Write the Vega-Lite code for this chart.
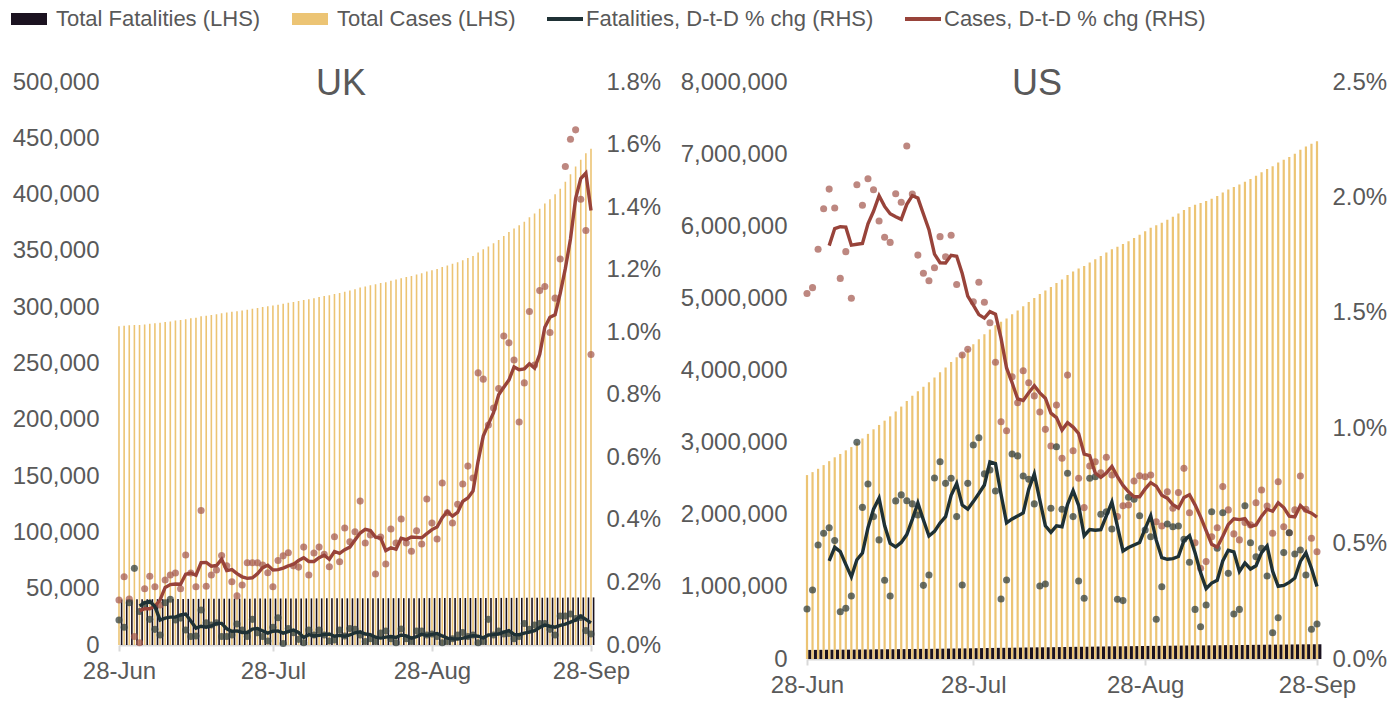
{
"$schema": "https://vega.github.io/schema/vega-lite/v6.json",
"padding": {"left": 12, "top": 8, "right": 2, "bottom": 2},
"background": "white",
"bounds": "flush",
"spacing": 216,
"config": {
 "view": {"stroke": null},
 "font": "Liberation Sans"
},
"datasets": {
"uk": [
{"d":"2020-06-28","tc":283000,"tf":40400,"cp":0.144,"fp":0.080},
{"d":"2020-06-29","tc":283600,"tf":40423,"cp":0.218,"fp":0.057},
{"d":"2020-06-30","tc":284000,"tf":40478,"cp":0.147,"fp":0.135},
{"d":"2020-07-01","tc":284100,"tf":40577,"cp":0.027,"fp":0.245},
{"d":"2020-07-02","tc":284100,"tf":40620,"cp":0.007,"fp":0.107,"cm":0.109,"fm":0.125},
{"d":"2020-07-03","tc":284600,"tf":40673,"cp":0.18,"fp":0.13,"cm":0.116,"fm":0.135},
{"d":"2020-07-04","tc":285200,"tf":40706,"cp":0.22,"fp":0.082,"cm":0.116,"fm":0.140},
{"d":"2020-07-05","tc":285800,"tf":40726,"cp":0.186,"fp":0.05,"cm":0.124,"fm":0.123},
{"d":"2020-07-06","tc":286200,"tf":40739,"cp":0.128,"fp":0.032,"cm":0.144,"fm":0.080},
{"d":"2020-07-07","tc":286800,"tf":40794,"cp":0.208,"fp":0.135,"cm":0.184,"fm":0.086},
{"d":"2020-07-08","tc":287400,"tf":40853,"cp":0.224,"fp":0.146,"cm":0.193,"fm":0.089},
{"d":"2020-07-09","tc":288100,"tf":40885,"cp":0.23,"fp":0.08,"cm":0.195,"fm":0.089},
{"d":"2020-07-10","tc":288600,"tf":40920,"cp":0.18,"fp":0.086,"cm":0.194,"fm":0.096},
{"d":"2020-07-11","tc":289400,"tf":40939,"cp":0.288,"fp":0.048,"cm":0.226,"fm":0.099},
{"d":"2020-07-12","tc":290100,"tf":40950,"cp":0.23,"fp":0.027,"cm":0.230,"fm":0.077},
{"d":"2020-07-13","tc":290600,"tf":40962,"cp":0.186,"fp":0.029,"cm":0.223,"fm":0.054},
{"d":"2020-07-14","tc":291900,"tf":41007,"cp":0.43,"fp":0.112,"cm":0.263,"fm":0.060},
{"d":"2020-07-15","tc":292400,"tf":41036,"cp":0.188,"fp":0.071,"cm":0.264,"fm":0.057},
{"d":"2020-07-16","tc":293100,"tf":41062,"cp":0.224,"fp":0.064,"cm":0.252,"fm":0.061},
{"d":"2020-07-17","tc":293800,"tf":41091,"cp":0.24,"fp":0.071,"cm":0.254,"fm":0.069},
{"d":"2020-07-18","tc":294600,"tf":41102,"cp":0.286,"fp":0.027,"cm":0.274,"fm":0.069},
{"d":"2020-07-19","tc":295400,"tf":41113,"cp":0.253,"fp":0.027,"cm":0.238,"fm":0.052},
{"d":"2020-07-20","tc":296000,"tf":41126,"cp":0.202,"fp":0.032,"cm":0.241,"fm":0.044},
{"d":"2020-07-21","tc":296400,"tf":41153,"cp":0.157,"fp":0.067,"cm":0.228,"fm":0.045},
{"d":"2020-07-22","tc":297000,"tf":41172,"cp":0.192,"fp":0.048,"cm":0.218,"fm":0.040},
{"d":"2020-07-23","tc":297800,"tf":41183,"cp":0.263,"fp":0.027,"cm":0.213,"fm":0.040},
{"d":"2020-07-24","tc":298600,"tf":41216,"cp":0.263,"fp":0.082,"cm":0.215,"fm":0.051},
{"d":"2020-07-25","tc":299300,"tf":41232,"cp":0.263,"fp":0.039,"cm":0.228,"fm":0.053},
{"d":"2020-07-26","tc":300100,"tf":41243,"cp":0.256,"fp":0.027,"cm":0.247,"fm":0.045},
{"d":"2020-07-27","tc":300800,"tf":41248,"cp":0.231,"fp":0.013,"cm":0.255,"fm":0.038},
{"d":"2020-07-28","tc":301400,"tf":41271,"cp":0.186,"fp":0.057,"cm":0.240,"fm":0.044},
{"d":"2020-07-29","tc":302200,"tf":41306,"cp":0.27,"fp":0.087,"cm":0.241,"fm":0.045},
{"d":"2020-07-30","tc":303000,"tf":41308,"cp":0.285,"fp":0.005,"cm":0.246,"fm":0.038},
{"d":"2020-07-31","tc":303900,"tf":41329,"cp":0.295,"fp":0.053,"cm":0.253,"fm":0.043},
{"d":"2020-08-01","tc":304700,"tf":41345,"cp":0.253,"fp":0.039,"cm":0.258,"fm":0.048},
{"d":"2020-08-02","tc":305500,"tf":41352,"cp":0.249,"fp":0.018,"cm":0.270,"fm":0.040},
{"d":"2020-08-03","tc":306400,"tf":41355,"cp":0.313,"fp":0.007,"cm":0.279,"fm":0.024},
{"d":"2020-08-04","tc":307100,"tf":41374,"cp":0.224,"fp":0.048,"cm":0.267,"fm":0.033},
{"d":"2020-08-05","tc":308000,"tf":41387,"cp":0.294,"fp":0.032,"cm":0.267,"fm":0.029},
{"d":"2020-08-06","tc":309000,"tf":41406,"cp":0.313,"fp":0.048,"cm":0.279,"fm":0.031},
{"d":"2020-08-07","tc":309900,"tf":41419,"cp":0.29,"fp":0.032,"cm":0.287,"fm":0.033},
{"d":"2020-08-08","tc":310700,"tf":41424,"cp":0.25,"fp":0.013,"cm":0.274,"fm":0.035},
{"d":"2020-08-09","tc":311700,"tf":41430,"cp":0.346,"fp":0.016,"cm":0.299,"fm":0.028},
{"d":"2020-08-10","tc":312600,"tf":41449,"cp":0.266,"fp":0.048,"cm":0.293,"fm":0.031},
{"d":"2020-08-11","tc":313700,"tf":41461,"cp":0.374,"fp":0.029,"cm":0.305,"fm":0.028},
{"d":"2020-08-12","tc":314800,"tf":41482,"cp":0.33,"fp":0.053,"cm":0.313,"fm":0.032},
{"d":"2020-08-13","tc":315900,"tf":41502,"cp":0.362,"fp":0.05,"cm":0.336,"fm":0.039},
{"d":"2020-08-14","tc":317400,"tf":41515,"cp":0.46,"fp":0.032,"cm":0.358,"fm":0.042},
{"d":"2020-08-15","tc":318400,"tf":41519,"cp":0.326,"fp":0.011,"cm":0.370,"fm":0.035},
{"d":"2020-08-16","tc":319500,"tf":41527,"cp":0.352,"fp":0.02,"cm":0.366,"fm":0.033},
{"d":"2020-08-17","tc":320300,"tf":41531,"cp":0.227,"fp":0.011,"cm":0.345,"fm":0.025},
{"d":"2020-08-18","tc":321400,"tf":41546,"cp":0.345,"fp":0.038,"cm":0.342,"fm":0.022},
{"d":"2020-08-19","tc":322200,"tf":41564,"cp":0.259,"fp":0.045,"cm":0.302,"fm":0.025},
{"d":"2020-08-20","tc":323400,"tf":41572,"cp":0.371,"fp":0.02,"cm":0.311,"fm":0.027},
{"d":"2020-08-21","tc":324500,"tf":41575,"cp":0.326,"fp":0.007,"cm":0.306,"fm":0.024},
{"d":"2020-08-22","tc":325800,"tf":41596,"cp":0.403,"fp":0.051,"cm":0.341,"fm":0.032},
{"d":"2020-08-23","tc":326800,"tf":41604,"cp":0.326,"fp":0.02,"cm":0.337,"fm":0.029},
{"d":"2020-08-24","tc":327800,"tf":41608,"cp":0.30,"fp":0.011,"cm":0.345,"fm":0.022},
{"d":"2020-08-25","tc":329000,"tf":41626,"cp":0.365,"fp":0.045,"cm":0.344,"fm":0.027},
{"d":"2020-08-26","tc":330100,"tf":41644,"cp":0.323,"fp":0.045,"cm":0.343,"fm":0.034},
{"d":"2020-08-27","tc":331600,"tf":41657,"cp":0.467,"fp":0.032,"cm":0.356,"fm":0.031},
{"d":"2020-08-28","tc":332900,"tf":41671,"cp":0.39,"fp":0.035,"cm":0.369,"fm":0.034},
{"d":"2020-08-29","tc":334000,"tf":41682,"cp":0.339,"fp":0.027,"cm":0.377,"fm":0.037},
{"d":"2020-08-30","tc":335700,"tf":41685,"cp":0.518,"fp":0.007,"cm":0.407,"fm":0.029},
{"d":"2020-08-31","tc":337100,"tf":41689,"cp":0.423,"fp":0.011,"cm":0.427,"fm":0.022},
{"d":"2020-09-01","tc":338500,"tf":41697,"cp":0.39,"fp":0.02,"cm":0.412,"fm":0.020},
{"d":"2020-09-02","tc":340000,"tf":41710,"cp":0.45,"fp":0.032,"cm":0.424,"fm":0.019},
{"d":"2020-09-03","tc":341700,"tf":41726,"cp":0.515,"fp":0.04,"cm":0.459,"fm":0.022},
{"d":"2020-09-04","tc":343700,"tf":41737,"cp":0.572,"fp":0.027,"cm":0.470,"fm":0.026},
{"d":"2020-09-05","tc":345500,"tf":41750,"cp":0.534,"fp":0.032,"cm":0.492,"fm":0.030},
{"d":"2020-09-06","tc":348500,"tf":41753,"cp":0.87,"fp":0.007,"cm":0.588,"fm":0.028},
{"d":"2020-09-07","tc":351500,"tf":41757,"cp":0.85,"fp":0.011,"cm":0.668,"fm":0.023},
{"d":"2020-09-08","tc":354000,"tf":41790,"cp":0.703,"fp":0.082,"cm":0.706,"fm":0.032},
{"d":"2020-09-09","tc":356700,"tf":41803,"cp":0.758,"fp":0.032,"cm":0.743,"fm":0.033},
{"d":"2020-09-10","tc":359600,"tf":41821,"cp":0.82,"fp":0.045,"cm":0.800,"fm":0.035},
{"d":"2020-09-11","tc":363200,"tf":41835,"cp":0.988,"fp":0.035,"cm":0.824,"fm":0.041},
{"d":"2020-09-12","tc":366700,"tf":41850,"cp":0.966,"fp":0.037,"cm":0.847,"fm":0.046},
{"d":"2020-09-13","tc":370000,"tf":41858,"cp":0.911,"fp":0.02,"cm":0.889,"fm":0.034},
{"d":"2020-09-14","tc":372700,"tf":41869,"cp":0.713,"fp":0.027,"cm":0.880,"fm":0.033},
{"d":"2020-09-15","tc":375800,"tf":41897,"cp":0.838,"fp":0.069,"cm":0.883,"fm":0.038},
{"d":"2020-09-16","tc":379800,"tf":41917,"cp":1.066,"fp":0.05,"cm":0.899,"fm":0.041},
{"d":"2020-09-17","tc":383200,"tf":41943,"cp":0.895,"fp":0.064,"cm":0.885,"fm":0.046},
{"d":"2020-09-18","tc":387500,"tf":41971,"cp":1.133,"fp":0.069,"cm":0.929,"fm":0.056},
{"d":"2020-09-19","tc":392000,"tf":41999,"cp":1.146,"fp":0.069,"cm":1.016,"fm":0.064},
{"d":"2020-09-20","tc":395900,"tf":42019,"cp":0.999,"fp":0.05,"cm":1.048,"fm":0.060},
{"d":"2020-09-21","tc":400300,"tf":42032,"cp":1.109,"fp":0.032,"cm":1.056,"fm":0.057},
{"d":"2020-09-22","tc":405200,"tf":42070,"cp":1.234,"fp":0.093,"cm":1.124,"fm":0.063},
{"d":"2020-09-23","tc":411400,"tf":42108,"cp":1.53,"fp":0.093,"cm":1.204,"fm":0.067},
{"d":"2020-09-24","tc":418100,"tf":42148,"cp":1.617,"fp":0.099,"cm":1.298,"fm":0.073},
{"d":"2020-09-25","tc":425000,"tf":42182,"cp":1.647,"fp":0.085,"cm":1.427,"fm":0.080},
{"d":"2020-09-26","tc":431000,"tf":42218,"cp":1.425,"fp":0.088,"cm":1.491,"fm":0.092},
{"d":"2020-09-27","tc":436700,"tf":42237,"cp":1.325,"fp":0.046,"cm":1.509,"fm":0.082},
{"d":"2020-09-28","tc":440800,"tf":42251,"cp":0.929,"fp":0.035,"cm":1.389,"fm":0.071}
],
"us": [
{"d":"2020-06-28","tc":2550000,"tf":126000,"cp":1.584,"fp":0.217},
{"d":"2020-06-29","tc":2591030,"tf":126377,"cp":1.609,"fp":0.299},
{"d":"2020-06-30","tc":2637021,"tf":127001,"cp":1.775,"fp":0.494},
{"d":"2020-07-01","tc":2688469,"tf":127693,"cp":1.951,"fp":0.545},
{"d":"2020-07-02","tc":2743206,"tf":128420,"cp":2.036,"fp":0.569,"cm":1.791,"fm":0.425},
{"d":"2020-07-03","tc":2796808,"tf":129079,"cp":1.954,"fp":0.513,"cm":1.865,"fm":0.484},
{"d":"2020-07-04","tc":2842927,"tf":129344,"cp":1.649,"fp":0.205,"cm":1.873,"fm":0.465},
{"d":"2020-07-05","tc":2893105,"tf":129629,"cp":1.765,"fp":0.22,"cm":1.871,"fm":0.410},
{"d":"2020-07-06","tc":2938324,"tf":129983,"cp":1.563,"fp":0.273,"cm":1.793,"fm":0.356},
{"d":"2020-07-07","tc":2998707,"tf":131204,"cp":2.055,"fp":0.939,"cm":1.797,"fm":0.430},
{"d":"2020-07-08","tc":3057662,"tf":132066,"cp":1.966,"fp":0.657,"cm":1.800,"fm":0.459},
{"d":"2020-07-09","tc":3121292,"tf":133067,"cp":2.081,"fp":0.758,"cm":1.886,"fm":0.569},
{"d":"2020-07-10","tc":3184748,"tf":133888,"cp":2.033,"fp":0.617,"cm":1.940,"fm":0.649},
{"d":"2020-07-11","tc":3245195,"tf":134579,"cp":1.898,"fp":0.516,"cm":2.007,"fm":0.697},
{"d":"2020-07-12","tc":3304485,"tf":135038,"cp":1.827,"fp":0.341,"cm":1.961,"fm":0.578},
{"d":"2020-07-13","tc":3364131,"tf":135407,"cp":1.805,"fp":0.273,"cm":1.929,"fm":0.501},
{"d":"2020-07-14","tc":3431952,"tf":136335,"cp":2.016,"fp":0.685,"cm":1.916,"fm":0.486},
{"d":"2020-07-15","tc":3499870,"tf":137304,"cp":1.979,"fp":0.711,"cm":1.905,"fm":0.505},
{"d":"2020-07-16","tc":3577672,"tf":138246,"cp":2.223,"fp":0.686,"cm":1.970,"fm":0.539},
{"d":"2020-07-17","tc":3649762,"tf":139175,"cp":2.015,"fp":0.672,"cm":2.008,"fm":0.605},
{"d":"2020-07-18","tc":3713633,"tf":140043,"cp":1.75,"fp":0.624,"cm":1.997,"fm":0.676},
{"d":"2020-07-19","tc":3775688,"tf":140490,"cp":1.671,"fp":0.319,"cm":1.928,"fm":0.602},
{"d":"2020-07-20","tc":3837572,"tf":141001,"cp":1.639,"fp":0.364,"cm":1.860,"fm":0.533},
{"d":"2020-07-21","tc":3902619,"tf":142106,"cp":1.695,"fp":0.784,"cm":1.754,"fm":0.553},
{"d":"2020-07-22","tc":3974037,"tf":143321,"cp":1.83,"fp":0.855,"cm":1.717,"fm":0.589},
{"d":"2020-07-23","tc":4043304,"tf":144412,"cp":1.743,"fp":0.761,"cm":1.716,"fm":0.617},
{"d":"2020-07-24","tc":4117539,"tf":145543,"cp":1.836,"fp":0.783,"cm":1.749,"fm":0.709},
{"d":"2020-07-25","tc":4184367,"tf":146441,"cp":1.623,"fp":0.617,"cm":1.745,"fm":0.760},
{"d":"2020-07-26","tc":4239475,"tf":146911,"cp":1.317,"fp":0.321,"cm":1.670,"fm":0.667},
{"d":"2020-07-27","tc":4296369,"tf":148029,"cp":1.342,"fp":0.761,"cm":1.572,"fm":0.649},
{"d":"2020-07-28","tc":4362877,"tf":149401,"cp":1.548,"fp":0.927,"cm":1.533,"fm":0.682},
{"d":"2020-07-29","tc":4434079,"tf":150834,"cp":1.632,"fp":0.959,"cm":1.492,"fm":0.717},
{"d":"2020-07-30","tc":4502630,"tf":152044,"cp":1.546,"fp":0.802,"cm":1.477,"fm":0.754},
{"d":"2020-07-31","tc":4568233,"tf":153289,"cp":1.457,"fp":0.819,"cm":1.505,"fm":0.854},
{"d":"2020-08-01","tc":4626981,"tf":154405,"cp":1.286,"fp":0.728,"cm":1.494,"fm":0.847},
{"d":"2020-08-02","tc":4674546,"tf":154806,"cp":1.028,"fp":0.26,"cm":1.390,"fm":0.714},
{"d":"2020-08-03","tc":4720777,"tf":155335,"cp":0.989,"fp":0.342,"cm":1.261,"fm":0.590},
{"d":"2020-08-04","tc":4778512,"tf":156714,"cp":1.223,"fp":0.888,"cm":1.197,"fm":0.607},
{"d":"2020-08-05","tc":4831553,"tf":158093,"cp":1.11,"fp":0.88,"cm":1.127,"fm":0.620},
{"d":"2020-08-06","tc":4891899,"tf":159347,"cp":1.249,"fp":0.793,"cm":1.120,"fm":0.633},
{"d":"2020-08-07","tc":4950455,"tf":160588,"cp":1.197,"fp":0.779,"cm":1.154,"fm":0.736},
{"d":"2020-08-08","tc":5006890,"tf":161667,"cp":1.14,"fp":0.672,"cm":1.184,"fm":0.802},
{"d":"2020-08-09","tc":5060464,"tf":162178,"cp":1.07,"fp":0.316,"cm":1.153,"fm":0.688},
{"d":"2020-08-10","tc":5110816,"tf":162705,"cp":0.995,"fp":0.325,"cm":1.130,"fm":0.577},
{"d":"2020-08-11","tc":5157989,"tf":163767,"cp":0.923,"fp":0.653,"cm":1.065,"fm":0.549},
{"d":"2020-08-12","tc":5214727,"tf":165274,"cp":1.10,"fp":0.92,"cm":1.046,"fm":0.577},
{"d":"2020-08-13","tc":5260095,"tf":166347,"cp":0.87,"fp":0.649,"cm":0.992,"fm":0.573},
{"d":"2020-08-14","tc":5324794,"tf":167686,"cp":1.23,"fp":0.805,"cm":1.024,"fm":0.670},
{"d":"2020-08-15","tc":5372824,"tf":168721,"cp":0.902,"fp":0.617,"cm":1.005,"fm":0.729},
{"d":"2020-08-16","tc":5414893,"tf":169291,"cp":0.783,"fp":0.338,"cm":0.977,"fm":0.666},
{"d":"2020-08-17","tc":5450415,"tf":169736,"cp":0.656,"fp":0.263,"cm":0.888,"fm":0.534},
{"d":"2020-08-18","tc":5495980,"tf":171065,"cp":0.836,"fp":0.783,"cm":0.881,"fm":0.561},
{"d":"2020-08-19","tc":5542971,"tf":172416,"cp":0.855,"fp":0.79,"cm":0.806,"fm":0.558},
{"d":"2020-08-20","tc":5587703,"tf":173497,"cp":0.807,"fp":0.627,"cm":0.787,"fm":0.560},
{"d":"2020-08-21","tc":5636540,"tf":174604,"cp":0.874,"fp":0.638,"cm":0.806,"fm":0.620},
{"d":"2020-08-22","tc":5681463,"tf":175587,"cp":0.797,"fp":0.563,"cm":0.834,"fm":0.680},
{"d":"2020-08-23","tc":5716518,"tf":176042,"cp":0.617,"fp":0.259,"cm":0.790,"fm":0.575},
{"d":"2020-08-24","tc":5754476,"tf":176487,"cp":0.664,"fp":0.253,"cm":0.752,"fm":0.468},
{"d":"2020-08-25","tc":5792858,"tf":177724,"cp":0.667,"fp":0.701,"cm":0.724,"fm":0.483},
{"d":"2020-08-26","tc":5837521,"tf":178954,"cp":0.771,"fp":0.692,"cm":0.703,"fm":0.494},
{"d":"2020-08-27","tc":5883871,"tf":180065,"cp":0.794,"fp":0.621,"cm":0.703,"fm":0.505},
{"d":"2020-08-28","tc":5930354,"tf":181072,"cp":0.79,"fp":0.559,"cm":0.737,"fm":0.565},
{"d":"2020-08-29","tc":5977619,"tf":182032,"cp":0.797,"fp":0.53,"cm":0.764,"fm":0.621},
{"d":"2020-08-30","tc":6013186,"tf":182345,"cp":0.595,"fp":0.172,"cm":0.749,"fm":0.515},
{"d":"2020-08-31","tc":6047822,"tf":182916,"cp":0.576,"fp":0.313,"cm":0.710,"fm":0.439},
{"d":"2020-09-01","tc":6091669,"tf":183986,"cp":0.725,"fp":0.585,"cm":0.697,"fm":0.432},
{"d":"2020-09-02","tc":6131448,"tf":185040,"cp":0.653,"fp":0.573,"cm":0.669,"fm":0.435},
{"d":"2020-09-03","tc":6175656,"tf":186106,"cp":0.721,"fp":0.576,"cm":0.654,"fm":0.444},
{"d":"2020-09-04","tc":6226667,"tf":187072,"cp":0.826,"fp":0.519,"cm":0.700,"fm":0.513},
{"d":"2020-09-05","tc":6266144,"tf":187856,"cp":0.634,"fp":0.419,"cm":0.712,"fm":0.534},
{"d":"2020-09-06","tc":6297725,"tf":188260,"cp":0.504,"fp":0.215,"cm":0.668,"fm":0.460},
{"d":"2020-09-07","tc":6322475,"tf":188524,"cp":0.393,"fp":0.14,"cm":0.616,"fm":0.374},
{"d":"2020-09-08","tc":6349156,"tf":188965,"cp":0.422,"fp":0.234,"cm":0.556,"fm":0.305},
{"d":"2020-09-09","tc":6382807,"tf":190171,"cp":0.53,"fp":0.638,"cm":0.497,"fm":0.329},
{"d":"2020-09-10","tc":6419125,"tf":191084,"cp":0.569,"fp":0.48,"cm":0.484,"fm":0.341},
{"d":"2020-09-11","tc":6467076,"tf":192295,"cp":0.747,"fp":0.634,"cm":0.532,"fm":0.425},
{"d":"2020-09-12","tc":6508853,"tf":193008,"cp":0.646,"fp":0.371,"cm":0.583,"fm":0.471},
{"d":"2020-09-13","tc":6544131,"tf":193384,"cp":0.542,"fp":0.195,"cm":0.607,"fm":0.464},
{"d":"2020-09-14","tc":6577899,"tf":193800,"cp":0.516,"fp":0.215,"cm":0.604,"fm":0.379},
{"d":"2020-09-15","tc":6616774,"tf":195087,"cp":0.591,"fp":0.664,"cm":0.608,"fm":0.416},
{"d":"2020-09-16","tc":6655217,"tf":196070,"cp":0.581,"fp":0.504,"cm":0.575,"fm":0.390},
{"d":"2020-09-17","tc":6700273,"tf":196939,"cp":0.677,"fp":0.443,"cm":0.581,"fm":0.404},
{"d":"2020-09-18","tc":6749319,"tf":197884,"cp":0.732,"fp":0.48,"cm":0.619,"fm":0.461},
{"d":"2020-09-19","tc":6794067,"tf":198596,"cp":0.663,"fp":0.36,"cm":0.649,"fm":0.490},
{"d":"2020-09-20","tc":6831095,"tf":198822,"cp":0.545,"fp":0.114,"cm":0.640,"fm":0.380},
{"d":"2020-09-21","tc":6883558,"tf":199178,"cp":0.768,"fp":0.179,"cm":0.677,"fm":0.315},
{"d":"2020-09-22","tc":6923001,"tf":200096,"cp":0.573,"fp":0.461,"cm":0.656,"fm":0.319},
{"d":"2020-09-23","tc":6960870,"tf":201191,"cp":0.547,"fp":0.547,"cm":0.619,"fm":0.332},
{"d":"2020-09-24","tc":7005837,"tf":202106,"cp":0.646,"fp":0.455,"cm":0.616,"fm":0.351},
{"d":"2020-09-25","tc":7061393,"tf":203060,"cp":0.793,"fp":0.472,"cm":0.665,"fm":0.423},
{"d":"2020-09-26","tc":7107221,"tf":203799,"cp":0.649,"fp":0.364,"cm":0.642,"fm":0.460},
{"d":"2020-09-27","tc":7144392,"tf":204062,"cp":0.523,"fp":0.129,"cm":0.632,"fm":0.393},
{"d":"2020-09-28","tc":7177613,"tf":204372,"cp":0.465,"fp":0.152,"cm":0.615,"fm":0.314}
]
},
"hconcat": [
{
 "data": {"name": "uk"},
 "width": 472, "height": 563,
 "title": {"text": "UK", "fontSize": 36, "fontWeight": "normal", "color": "#595959", "font": "Liberation Sans", "anchor": "middle", "frame": "group", "baseline": "alphabetic", "offset": 4, "dy": 65, "dx": -14},
 "layer": [
   {"mark": {"type": "bar", "width": 1.6, "xOffset": 2.6},
    "encoding": {
     "x": {"field": "d", "type": "temporal", "title": null, "scale": {"type": "utc", "padding": 0},
       "axis": {"values": [{"year":2020,"month":6,"date":28,"utc":true},{"year":2020,"month":7,"date":28,"utc":true},{"year":2020,"month":8,"date":28,"utc":true},{"year":2020,"month":9,"date":28,"utc":true}], "labelExpr": "utcFormat(datum.value, '%d-%b')", "domain": true, "domainColor": "#d9d9d9", "domainWidth": 2, "ticks": true, "tickColor": "#d9d9d9", "tickWidth": 2, "tickSize": 6, "labelPadding": 8, "grid": false, "labelFlush": false, "labelOverlap": false, "labelFont": "Liberation Sans", "labelFontSize": 24, "labelColor": "#595959"}},
     "y": {"field": "tf", "type": "quantitative", "title": null, "scale": {"domain": [0, 500000]},
       "axis": {"orient": "left", "values": [0,50000,100000,150000,200000,250000,300000,350000,400000,450000,500000], "format": ",d", "domain": false, "ticks": false, "grid": false, "labelPadding": 20, "labelOverlap": false, "labelFont": "Liberation Sans", "labelFontSize": 24, "labelColor": "#595959"}},
     "color": {"datum": "Total Fatalities (LHS)",
       "scale": {"domain": ["Total Fatalities (LHS)", "Total Cases (LHS)", "Fatalities, D-t-D % chg (RHS)", "Cases, D-t-D % chg (RHS)"], "range": ["#1b1220", "#ecc474", "#1f3135", "#98433a"]},
       "legend": {"orient": "none", "legendX": -101, "legendY": -74, "direction": "horizontal", "title": null,
         "labelFontSize": 22, "labelFont": "Liberation Sans", "labelColor": "#595959", "labelLimit": 600,
         "symbolSize": 144, "labelOffset": 16, "columnPadding": 31, "padding": 0,
         "symbolStrokeWidth": 0, "symbolOpacity": 1,
         "encoding": {"symbols": {
           "shape": {"value": {"signal": "indexof(datum.value, 'Total') === 0 ? 'M-3,-1H3V1H-3Z' : 'M-2,-0.33H4V0.33H-2Z'"}}}}}}
    }},
   {"mark": {"type": "bar", "width": 1.6},
    "encoding": {
     "x": {"field": "d", "type": "temporal", "title": null, "scale": {"type": "utc", "padding": 0},
       "axis": {"values": [{"year":2020,"month":6,"date":28,"utc":true},{"year":2020,"month":7,"date":28,"utc":true},{"year":2020,"month":8,"date":28,"utc":true},{"year":2020,"month":9,"date":28,"utc":true}], "labelExpr": "utcFormat(datum.value, '%d-%b')", "domain": true, "domainColor": "#d9d9d9", "domainWidth": 2, "ticks": true, "tickColor": "#d9d9d9", "tickWidth": 2, "tickSize": 6, "labelPadding": 8, "grid": false, "labelFlush": false, "labelOverlap": false, "labelFont": "Liberation Sans", "labelFontSize": 24, "labelColor": "#595959"}},
     "y": {"field": "tc", "type": "quantitative", "title": null, "scale": {"domain": [0, 500000]}, "axis": null},
     "color": {"datum": "Total Cases (LHS)"}
    }},
   {"mark": {"type": "circle", "size": 50, "opacity": 0.72, "color": "#a4594f"},
    "encoding": {
     "x": {"field": "d", "type": "temporal", "title": null, "scale": {"type": "utc", "padding": 0},
       "axis": {"values": [{"year":2020,"month":6,"date":28,"utc":true},{"year":2020,"month":7,"date":28,"utc":true},{"year":2020,"month":8,"date":28,"utc":true},{"year":2020,"month":9,"date":28,"utc":true}], "labelExpr": "utcFormat(datum.value, '%d-%b')", "domain": true, "domainColor": "#d9d9d9", "domainWidth": 2, "ticks": true, "tickColor": "#d9d9d9", "tickWidth": 2, "tickSize": 6, "labelPadding": 8, "grid": false, "labelFlush": false, "labelOverlap": false, "labelFont": "Liberation Sans", "labelFontSize": 24, "labelColor": "#595959"}},
     "y": {"field": "cp", "type": "quantitative", "title": null, "scale": {"domain": [0, 1.8]},
       "axis": {"orient": "right", "values": [0,0.2,0.4,0.6,0.8,1,1.2,1.4,1.6,1.8], "labelExpr": "format(datum.value, '.1f') + '%'", "domain": false, "ticks": false, "grid": false, "labelPadding": 15, "labelOverlap": false, "labelFont": "Liberation Sans", "labelFontSize": 24, "labelColor": "#595959"}}
    }},
   {"mark": {"type": "circle", "size": 50, "opacity": 0.75, "color": "#34403d"},
    "encoding": {
     "x": {"field": "d", "type": "temporal", "title": null, "scale": {"type": "utc", "padding": 0},
       "axis": {"values": [{"year":2020,"month":6,"date":28,"utc":true},{"year":2020,"month":7,"date":28,"utc":true},{"year":2020,"month":8,"date":28,"utc":true},{"year":2020,"month":9,"date":28,"utc":true}], "labelExpr": "utcFormat(datum.value, '%d-%b')", "domain": true, "domainColor": "#d9d9d9", "domainWidth": 2, "ticks": true, "tickColor": "#d9d9d9", "tickWidth": 2, "tickSize": 6, "labelPadding": 8, "grid": false, "labelFlush": false, "labelOverlap": false, "labelFont": "Liberation Sans", "labelFontSize": 24, "labelColor": "#595959"}},
     "y": {"field": "fp", "type": "quantitative", "title": null, "scale": {"domain": [0, 1.8]}, "axis": null}
    }},
   {"mark": {"type": "line", "strokeWidth": 3.4},
    "encoding": {
     "x": {"field": "d", "type": "temporal", "title": null, "scale": {"type": "utc", "padding": 0},
       "axis": {"values": [{"year":2020,"month":6,"date":28,"utc":true},{"year":2020,"month":7,"date":28,"utc":true},{"year":2020,"month":8,"date":28,"utc":true},{"year":2020,"month":9,"date":28,"utc":true}], "labelExpr": "utcFormat(datum.value, '%d-%b')", "domain": true, "domainColor": "#d9d9d9", "domainWidth": 2, "ticks": true, "tickColor": "#d9d9d9", "tickWidth": 2, "tickSize": 6, "labelPadding": 8, "grid": false, "labelFlush": false, "labelOverlap": false, "labelFont": "Liberation Sans", "labelFontSize": 24, "labelColor": "#595959"}},
     "y": {"field": "cm", "type": "quantitative", "title": null, "scale": {"domain": [0, 1.8]}, "axis": null},
     "color": {"datum": "Cases, D-t-D % chg (RHS)"}
    }},
   {"mark": {"type": "line", "strokeWidth": 3.4},
    "encoding": {
     "x": {"field": "d", "type": "temporal", "title": null, "scale": {"type": "utc", "padding": 0},
       "axis": {"values": [{"year":2020,"month":6,"date":28,"utc":true},{"year":2020,"month":7,"date":28,"utc":true},{"year":2020,"month":8,"date":28,"utc":true},{"year":2020,"month":9,"date":28,"utc":true}], "labelExpr": "utcFormat(datum.value, '%d-%b')", "domain": true, "domainColor": "#d9d9d9", "domainWidth": 2, "ticks": true, "tickColor": "#d9d9d9", "tickWidth": 2, "tickSize": 6, "labelPadding": 8, "grid": false, "labelFlush": false, "labelOverlap": false, "labelFont": "Liberation Sans", "labelFontSize": 24, "labelColor": "#595959"}},
     "y": {"field": "fm", "type": "quantitative", "title": null, "scale": {"domain": [0, 1.8]}, "axis": null},
     "color": {"datum": "Fatalities, D-t-D % chg (RHS)"}
    }}
 ],
 "resolve": {"scale": {"y": "independent"}}
},
{
 "data": {"name": "us"},
 "width": 510, "height": 577,
 "title": {"text": "US", "fontSize": 36, "fontWeight": "normal", "color": "#595959", "font": "Liberation Sans", "anchor": "middle", "frame": "group", "baseline": "alphabetic", "offset": 4, "dy": 65, "dx": -25},
 "layer": [
   {"mark": {"type": "bar", "width": 3.2, "xOffset": 2.8},
    "encoding": {
     "x": {"field": "d", "type": "temporal", "title": null, "scale": {"type": "utc", "padding": 0},
       "axis": {"values": [{"year":2020,"month":6,"date":28,"utc":true},{"year":2020,"month":7,"date":28,"utc":true},{"year":2020,"month":8,"date":28,"utc":true},{"year":2020,"month":9,"date":28,"utc":true}], "labelExpr": "utcFormat(datum.value, '%d-%b')", "domain": true, "domainColor": "#d9d9d9", "domainWidth": 2, "ticks": true, "tickColor": "#d9d9d9", "tickWidth": 2, "tickSize": 6, "labelPadding": 8, "grid": false, "labelFlush": false, "labelOverlap": false, "labelFont": "Liberation Sans", "labelFontSize": 24, "labelColor": "#595959"}},
     "y": {"field": "tf", "type": "quantitative", "title": null, "scale": {"domain": [0, 8000000]},
       "axis": {"orient": "left", "values": [0,1000000,2000000,3000000,4000000,5000000,6000000,7000000,8000000], "format": ",d", "domain": false, "ticks": false, "grid": false, "labelPadding": 20, "labelOverlap": false, "labelFont": "Liberation Sans", "labelFontSize": 24, "labelColor": "#595959"}},
     "color": {"datum": "Total Fatalities (LHS)"}
    }},
   {"mark": {"type": "bar", "width": 2.2},
    "encoding": {
     "x": {"field": "d", "type": "temporal", "title": null, "scale": {"type": "utc", "padding": 0},
       "axis": {"values": [{"year":2020,"month":6,"date":28,"utc":true},{"year":2020,"month":7,"date":28,"utc":true},{"year":2020,"month":8,"date":28,"utc":true},{"year":2020,"month":9,"date":28,"utc":true}], "labelExpr": "utcFormat(datum.value, '%d-%b')", "domain": true, "domainColor": "#d9d9d9", "domainWidth": 2, "ticks": true, "tickColor": "#d9d9d9", "tickWidth": 2, "tickSize": 6, "labelPadding": 8, "grid": false, "labelFlush": false, "labelOverlap": false, "labelFont": "Liberation Sans", "labelFontSize": 24, "labelColor": "#595959"}},
     "y": {"field": "tc", "type": "quantitative", "title": null, "scale": {"domain": [0, 8000000]}, "axis": null},
     "color": {"datum": "Total Cases (LHS)"}
    }},
   {"mark": {"type": "circle", "size": 50, "opacity": 0.72, "color": "#a4594f"},
    "encoding": {
     "x": {"field": "d", "type": "temporal", "title": null, "scale": {"type": "utc", "padding": 0},
       "axis": {"values": [{"year":2020,"month":6,"date":28,"utc":true},{"year":2020,"month":7,"date":28,"utc":true},{"year":2020,"month":8,"date":28,"utc":true},{"year":2020,"month":9,"date":28,"utc":true}], "labelExpr": "utcFormat(datum.value, '%d-%b')", "domain": true, "domainColor": "#d9d9d9", "domainWidth": 2, "ticks": true, "tickColor": "#d9d9d9", "tickWidth": 2, "tickSize": 6, "labelPadding": 8, "grid": false, "labelFlush": false, "labelOverlap": false, "labelFont": "Liberation Sans", "labelFontSize": 24, "labelColor": "#595959"}},
     "y": {"field": "cp", "type": "quantitative", "title": null, "scale": {"domain": [0, 2.5]},
       "axis": {"orient": "right", "values": [0,0.5,1,1.5,2,2.5], "labelExpr": "format(datum.value, '.1f') + '%'", "domain": false, "ticks": false, "grid": false, "labelPadding": 15, "labelOverlap": false, "labelFont": "Liberation Sans", "labelFontSize": 24, "labelColor": "#595959"}}
    }},
   {"mark": {"type": "circle", "size": 50, "opacity": 0.75, "color": "#34403d"},
    "encoding": {
     "x": {"field": "d", "type": "temporal", "title": null, "scale": {"type": "utc", "padding": 0},
       "axis": {"values": [{"year":2020,"month":6,"date":28,"utc":true},{"year":2020,"month":7,"date":28,"utc":true},{"year":2020,"month":8,"date":28,"utc":true},{"year":2020,"month":9,"date":28,"utc":true}], "labelExpr": "utcFormat(datum.value, '%d-%b')", "domain": true, "domainColor": "#d9d9d9", "domainWidth": 2, "ticks": true, "tickColor": "#d9d9d9", "tickWidth": 2, "tickSize": 6, "labelPadding": 8, "grid": false, "labelFlush": false, "labelOverlap": false, "labelFont": "Liberation Sans", "labelFontSize": 24, "labelColor": "#595959"}},
     "y": {"field": "fp", "type": "quantitative", "title": null, "scale": {"domain": [0, 2.5]}, "axis": null}
    }},
   {"mark": {"type": "line", "strokeWidth": 3.4},
    "encoding": {
     "x": {"field": "d", "type": "temporal", "title": null, "scale": {"type": "utc", "padding": 0},
       "axis": {"values": [{"year":2020,"month":6,"date":28,"utc":true},{"year":2020,"month":7,"date":28,"utc":true},{"year":2020,"month":8,"date":28,"utc":true},{"year":2020,"month":9,"date":28,"utc":true}], "labelExpr": "utcFormat(datum.value, '%d-%b')", "domain": true, "domainColor": "#d9d9d9", "domainWidth": 2, "ticks": true, "tickColor": "#d9d9d9", "tickWidth": 2, "tickSize": 6, "labelPadding": 8, "grid": false, "labelFlush": false, "labelOverlap": false, "labelFont": "Liberation Sans", "labelFontSize": 24, "labelColor": "#595959"}},
     "y": {"field": "cm", "type": "quantitative", "title": null, "scale": {"domain": [0, 2.5]}, "axis": null},
     "color": {"datum": "Cases, D-t-D % chg (RHS)"}
    }},
   {"mark": {"type": "line", "strokeWidth": 3.4},
    "encoding": {
     "x": {"field": "d", "type": "temporal", "title": null, "scale": {"type": "utc", "padding": 0},
       "axis": {"values": [{"year":2020,"month":6,"date":28,"utc":true},{"year":2020,"month":7,"date":28,"utc":true},{"year":2020,"month":8,"date":28,"utc":true},{"year":2020,"month":9,"date":28,"utc":true}], "labelExpr": "utcFormat(datum.value, '%d-%b')", "domain": true, "domainColor": "#d9d9d9", "domainWidth": 2, "ticks": true, "tickColor": "#d9d9d9", "tickWidth": 2, "tickSize": 6, "labelPadding": 8, "grid": false, "labelFlush": false, "labelOverlap": false, "labelFont": "Liberation Sans", "labelFontSize": 24, "labelColor": "#595959"}},
     "y": {"field": "fm", "type": "quantitative", "title": null, "scale": {"domain": [0, 2.5]}, "axis": null},
     "color": {"datum": "Fatalities, D-t-D % chg (RHS)"}
    }}
 ],
 "resolve": {"scale": {"y": "independent"}}
}
]
}
